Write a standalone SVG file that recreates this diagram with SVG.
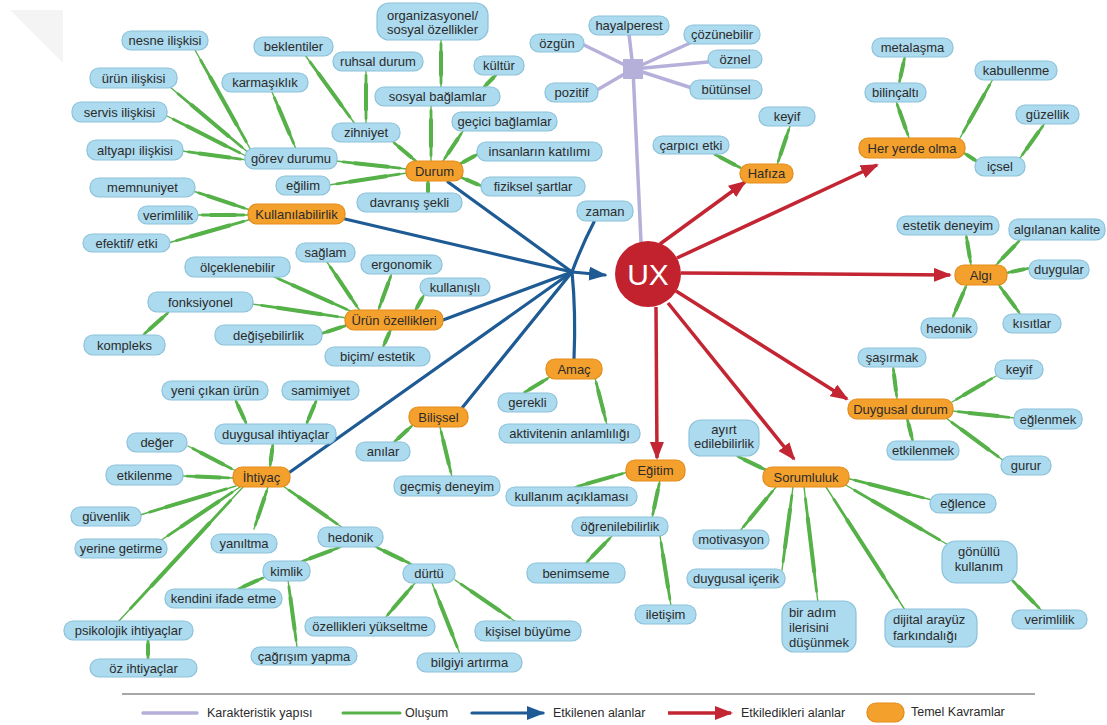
<svg xmlns="http://www.w3.org/2000/svg" width="1107" height="725" viewBox="0 0 1107 725">
<style>
.b{fill:#acdaee;stroke:#8cc2da;stroke-width:1.2}
.o{fill:#f4a02c;stroke:#e38b1a;stroke-width:1.2}
.t{font-family:"Liberation Sans",Arial,sans-serif;font-size:13px;fill:#2b2b2b;text-anchor:middle}
.tl{text-anchor:start}
.lg{font-family:"Liberation Sans",Arial,sans-serif;font-size:12.5px;fill:#2b2b2b}
.g{stroke:#55b148;stroke-width:3;stroke-linecap:round;fill:none}
.p{stroke:#b5b0da;stroke-width:3.5;stroke-linecap:round;fill:none}
.bl{stroke:#1e5b94;stroke-width:3.2;stroke-linecap:round;fill:none}
.r{stroke:#c32532;stroke-width:3.5;fill:none}
.gw{fill:none;stroke:#55b148;stroke-linecap:round}
.gw1{stroke-width:1.4}
.gw2{stroke-width:2.8;stroke-dasharray:80 200;stroke-dashoffset:-10}
.gw3{stroke-width:4;stroke-dasharray:46 200;stroke-dashoffset:-27}
</style>
<defs>
<marker id="ah-red" markerUnits="userSpaceOnUse" markerWidth="20" markerHeight="16" refX="16" refY="7" orient="auto">
<path d="M0,0 L18,7 L0,14 z" fill="#c32532"/>
</marker>
<marker id="ah-blue" markerUnits="userSpaceOnUse" markerWidth="20" markerHeight="16" refX="16" refY="7" orient="auto">
<path d="M0,0 L18,7 L0,14 z" fill="#1e5b94"/>
</marker>
<!-- formation link geometry, drawn below as tapered strokes -->
<g id="green-paths">
<path pathLength="100" d="M418,163 L392,141"/>
<path pathLength="100" d="M431,161 L431,105"/>
<path pathLength="100" d="M443,161 L463,131"/>
<path pathLength="100" d="M458,165 L480,153"/>
<path pathLength="100" d="M460,177 L484,187"/>
<path pathLength="100" d="M428,180 L428,195"/>
<path pathLength="100" d="M407,169 L336,161"/>
<path pathLength="100" d="M407,173 L329,185"/>
<path pathLength="100" d="M441,88 L441,39"/>
<path pathLength="100" d="M483,88 L497,74"/>
<path pathLength="100" d="M355,124 L305,55"/>
<path pathLength="100" d="M366,124 L366,70"/>
<path pathLength="100" d="M252,152 L195,50"/>
<path pathLength="100" d="M250,154 L170,87"/>
<path pathLength="100" d="M248,157 L165,115"/>
<path pathLength="100" d="M247,160 L182,151"/>
<path pathLength="100" d="M296,149 L272,92"/>
<path pathLength="100" d="M250,210 L193,191"/>
<path pathLength="100" d="M249,215 L197,215"/>
<path pathLength="100" d="M252,219 L168,243"/>
<path pathLength="100" d="M355,313 L270,275"/>
<path pathLength="100" d="M360,311 L327,262"/>
<path pathLength="100" d="M378,311 L392,273"/>
<path pathLength="100" d="M415,311 L424,295"/>
<path pathLength="100" d="M347,318 L252,304"/>
<path pathLength="100" d="M348,325 L320,334"/>
<path pathLength="100" d="M391,329 L383,347"/>
<path pathLength="100" d="M170,311 L142,336"/>
<path pathLength="100" d="M550,377 L522,394"/>
<path pathLength="100" d="M595,378 L607,425"/>
<path pathLength="100" d="M413,425 L393,443"/>
<path pathLength="100" d="M440,427 L452,477"/>
<path pathLength="100" d="M270,467 L273,443"/>
<path pathLength="100" d="M236,471 L188,446"/>
<path pathLength="100" d="M234,478 L182,476"/>
<path pathLength="100" d="M236,486 L140,515"/>
<path pathLength="100" d="M240,487 L160,541"/>
<path pathLength="100" d="M243,487 L118,622"/>
<path pathLength="100" d="M268,487 L254,529"/>
<path pathLength="100" d="M283,486 L343,528"/>
<path pathLength="100" d="M247,425 L235,399"/>
<path pathLength="100" d="M306,425 L317,399"/>
<path pathLength="100" d="M148,639 L148,660"/>
<path pathLength="100" d="M343,546 L298,563"/>
<path pathLength="100" d="M374,546 L413,565"/>
<path pathLength="100" d="M265,577 L236,590"/>
<path pathLength="100" d="M288,580 L297,647"/>
<path pathLength="100" d="M415,583 L385,618"/>
<path pathLength="100" d="M432,583 L460,654"/>
<path pathLength="100" d="M455,580 L516,622"/>
<path pathLength="100" d="M628,472 L572,488"/>
<path pathLength="100" d="M660,480 L652,518"/>
<path pathLength="100" d="M612,536 L585,564"/>
<path pathLength="100" d="M660,536 L671,606"/>
<path pathLength="100" d="M770,472 L735,455"/>
<path pathLength="100" d="M776,487 L740,531"/>
<path pathLength="100" d="M793,487 L782,570"/>
<path pathLength="100" d="M804,487 L818,603"/>
<path pathLength="100" d="M826,487 L905,610"/>
<path pathLength="100" d="M846,478 L932,500"/>
<path pathLength="100" d="M844,484 L950,546"/>
<path pathLength="100" d="M1010,578 L1042,611"/>
<path pathLength="100" d="M897,399 L893,366"/>
<path pathLength="100" d="M952,402 L996,376"/>
<path pathLength="100" d="M952,411 L1015,418"/>
<path pathLength="100" d="M907,418 L913,442"/>
<path pathLength="100" d="M946,418 L1004,461"/>
<path pathLength="100" d="M971,265 L966,234"/>
<path pathLength="100" d="M996,265 L1021,239"/>
<path pathLength="100" d="M1006,273 L1030,268"/>
<path pathLength="100" d="M967,284 L952,319"/>
<path pathLength="100" d="M998,284 L1021,315"/>
<path pathLength="100" d="M909,138 L896,101"/>
<path pathLength="100" d="M960,138 L993,79"/>
<path pathLength="100" d="M964,153 L978,162"/>
<path pathLength="100" d="M899,84 L905,56"/>
<path pathLength="100" d="M1020,158 L1045,123"/>
<path pathLength="100" d="M743,169 L712,153"/>
<path pathLength="100" d="M777,165 L790,126"/>
</g>
</defs>
<rect width="1107" height="725" fill="#ffffff"/>
<polygon points="10,10 63,10 63,63" fill="#f4f4f4"/>

<!-- connectors -->
<g id="connectors">
<!-- characteristic structure -->
<g id="purple-links">
<path class="p" d="M633,69 L584,45"/>
<path class="p" d="M633,69 L629,34"/>
<path class="p" d="M633,69 L690,43"/>
<path class="p" d="M633,69 L708,62"/>
<path class="p" d="M633,69 L692,88"/>
<path class="p" d="M633,69 L597,90"/>
<path class="p" d="M633,69 L641,242"/>
</g>
<!-- formation links: thin full length, thicker toward the middle -->
<g id="green-links">
<use href="#green-paths" class="gw gw1"/>
<use href="#green-paths" class="gw gw2"/>
<use href="#green-paths" class="gw gw3"/>
</g>
<!-- affected areas -->
<g id="blue-links">
<path class="bl" d="M448,182 L572,272"/>
<path class="bl" d="M345,219 L572,272"/>
<path class="bl" d="M594,222 Q582,245 572,272"/>
<path class="bl" d="M443,320 L572,272"/>
<path class="bl" d="M462,408 L572,272"/>
<path class="bl" d="M290,472 L572,272"/>
<path class="bl" d="M574,359 Q576,312 572,272"/>
<path class="bl" d="M572,272 L605,275" marker-end="url(#ah-blue)"/>
</g>
<!-- influenced areas -->
<g id="red-links">
<path class="r" d="M660,244 L745,182" marker-end="url(#ah-red)"/>
<path class="r" d="M677,258 L877,165" marker-end="url(#ah-red)"/>
<path class="r" d="M681,273 L950,275" marker-end="url(#ah-red)"/>
<path class="r" d="M676,291 L847,399" marker-end="url(#ah-red)"/>
<path class="r" d="M668,303 L794,459" marker-end="url(#ah-red)"/>
<path class="r" d="M656,307 L657,458" marker-end="url(#ah-red)"/>
</g>
</g>

<!-- central node -->
<g id="ux">
<circle cx="648" cy="274" r="33" fill="#c1222e"/>
<text x="648" y="285" font-family="Liberation Sans, Arial, sans-serif" font-size="30" fill="#ffffff" text-anchor="middle">UX</text>
</g>
<g id="karakteristik-hub"><rect x="623" y="59" width="20" height="20" fill="#b5b0da"/></g>

<!-- core concepts -->
<g id="durum"><rect class="o" x="406" y="161" width="57" height="20" rx="9"/><text class="t" x="434.5" y="175.5">Durum</text></g>
<g id="kullanilabilirlik"><rect class="o" x="248" y="204" width="97" height="20" rx="9"/><text class="t" x="296.5" y="218.5">Kullanılabilirlik</text></g>
<g id="urun-ozellikleri"><rect class="o" x="345" y="310" width="98" height="20" rx="9"/><text class="t" x="394" y="324.5">Ürün özellikleri</text></g>
<g id="amac"><rect class="o" x="546" y="359" width="56" height="20" rx="9"/><text class="t" x="574" y="373.5">Amaç</text></g>
<g id="bilissel"><rect class="o" x="409" y="407" width="59" height="20" rx="9"/><text class="t" x="438.5" y="421.5">Bilişsel</text></g>
<g id="ihtiyac"><rect class="o" x="233" y="467" width="57" height="20" rx="9"/><text class="t" x="261.5" y="481.5">İhtiyaç</text></g>
<g id="egitim"><rect class="o" x="626" y="460" width="59" height="21" rx="9"/><text class="t" x="655.5" y="475">Eğitim</text></g>
<g id="sorumluluk"><rect class="o" x="763" y="467" width="86" height="20" rx="9"/><text class="t" x="806" y="481.5">Sorumluluk</text></g>
<g id="duygusal-durum"><rect class="o" x="848" y="399" width="105" height="20" rx="9"/><text class="t" x="900.5" y="413.5">Duygusal durum</text></g>
<g id="algi"><rect class="o" x="955" y="265" width="52" height="20" rx="9"/><text class="t" x="981" y="279.5">Algı</text></g>
<g id="her-yerde-olma"><rect class="o" x="859" y="138" width="106" height="20" rx="9"/><text class="t" x="912" y="152.5">Her yerde olma</text></g>
<g id="hafiza"><rect class="o" x="740" y="164" width="53" height="19" rx="9"/><text class="t" x="766.5" y="178">Hafıza</text></g>

<!-- sub-concepts -->
<g id="nesne-iliskisi"><rect class="b" x="122" y="31" width="86" height="19" rx="9"/><text class="t" x="165" y="45">nesne ilişkisi</text></g>
<g id="beklentiler"><rect class="b" x="254" y="37" width="79" height="19" rx="9"/><text class="t" x="293.5" y="51">beklentiler</text></g>
<g id="ruhsal-durum"><rect class="b" x="333" y="52" width="90" height="19" rx="9"/><text class="t" x="378" y="66">ruhsal durum</text></g>
<g id="organizasyonel"><rect class="b" x="377" y="3" width="111" height="37" rx="12"/><text class="t" x="432.5" y="19.5">organizasyonel/</text><text class="t" x="432.5" y="33.5">sosyal özellikler</text></g>
<g id="kultur"><rect class="b" x="474" y="56" width="50" height="19" rx="9"/><text class="t" x="499" y="70">kültür</text></g>
<g id="sosyal-baglamlar"><rect class="b" x="375" y="87" width="125" height="19" rx="9"/><text class="t" x="437.5" y="101">sosyal bağlamlar</text></g>
<g id="urun-iliskisi"><rect class="b" x="90" y="68" width="87" height="20" rx="9"/><text class="t" x="133.5" y="83">ürün ilişkisi</text></g>
<g id="karmasiklik"><rect class="b" x="222" y="73" width="86" height="19" rx="9"/><text class="t" x="265" y="87">karmaşıklık</text></g>
<g id="servis-iliskisi"><rect class="b" x="72" y="102" width="95" height="20" rx="9"/><text class="t" x="119.5" y="117">servis ilişkisi</text></g>
<g id="zihniyet"><rect class="b" x="332" y="123" width="68" height="19" rx="9"/><text class="t" x="366" y="137">zihniyet</text></g>
<g id="gecici-baglamlar"><rect class="b" x="452" y="112" width="105" height="19" rx="9"/><text class="t" x="504.5" y="126">geçici bağlamlar</text></g>
<g id="altyapi-iliskisi"><rect class="b" x="87" y="140" width="96" height="20" rx="9"/><text class="t" x="135" y="155">altyapı ilişkisi</text></g>
<g id="gorev-durumu"><rect class="b" x="245" y="148" width="92" height="21" rx="9"/><text class="t" x="291" y="163">görev durumu</text></g>
<g id="insanlarin-katilimi"><rect class="b" x="477" y="142" width="125" height="19" rx="9"/><text class="t" x="539.5" y="156">insanların katılımı</text></g>
<g id="egilim"><rect class="b" x="276" y="176" width="54" height="19" rx="9"/><text class="t" x="303" y="190">eğilim</text></g>
<g id="fiziksel-sartlar"><rect class="b" x="481" y="177" width="104" height="19" rx="9"/><text class="t" x="533" y="191">fiziksel şartlar</text></g>
<g id="memnuniyet"><rect class="b" x="90" y="178" width="105" height="19" rx="9"/><text class="t" x="142.5" y="192">memnuniyet</text></g>
<g id="davranis-sekli"><rect class="b" x="357" y="193" width="105" height="19" rx="9"/><text class="t" x="409.5" y="207">davranış şekli</text></g>
<g id="verimlilik-1"><rect class="b" x="138" y="206" width="60" height="18" rx="9"/><text class="t" x="168" y="219.5">verimlilik</text></g>
<g id="zaman"><rect class="b" x="577" y="201" width="56" height="20" rx="9"/><text class="t" x="605" y="215.5">zaman</text></g>
<g id="efektif-etki"><rect class="b" x="83" y="234" width="87" height="18" rx="9"/><text class="t" x="126.5" y="247.5">efektif/ etki</text></g>
<g id="ozgun"><rect class="b" x="530" y="34" width="54" height="18" rx="9"/><text class="t" x="557" y="47.5">özgün</text></g>
<g id="hayalperest"><rect class="b" x="589" y="16" width="80" height="19" rx="9"/><text class="t" x="629" y="30">hayalperest</text></g>
<g id="cozunebilir"><rect class="b" x="684" y="25" width="76" height="19" rx="9"/><text class="t" x="722" y="39">çözünebilir</text></g>
<g id="oznel"><rect class="b" x="708" y="50" width="54" height="18" rx="9"/><text class="t" x="735" y="63.5">öznel</text></g>
<g id="pozitif"><rect class="b" x="545" y="83" width="53" height="19" rx="9"/><text class="t" x="571.5" y="97">pozitif</text></g>
<g id="butunsel"><rect class="b" x="690" y="80" width="72" height="19" rx="9"/><text class="t" x="726" y="94">bütünsel</text></g>
<g id="carpici-etki"><rect class="b" x="653" y="136" width="76" height="18" rx="9"/><text class="t" x="691" y="149.5">çarpıcı etki</text></g>
<g id="keyif-1"><rect class="b" x="759" y="107" width="56" height="19" rx="9"/><text class="t" x="787" y="121">keyif</text></g>
<g id="metalasma"><rect class="b" x="872" y="38" width="81" height="19" rx="9"/><text class="t" x="912.5" y="52">metalaşma</text></g>
<g id="kabullenme"><rect class="b" x="975" y="61" width="82" height="19" rx="9"/><text class="t" x="1016" y="75">kabullenme</text></g>
<g id="bilincalti"><rect class="b" x="865" y="83" width="61" height="19" rx="9"/><text class="t" x="895.5" y="97">bilinçaltı</text></g>
<g id="guzellik"><rect class="b" x="1016" y="105" width="63" height="19" rx="9"/><text class="t" x="1047.5" y="119">güzellik</text></g>
<g id="icsel"><rect class="b" x="975" y="157" width="50" height="19" rx="9"/><text class="t" x="1000" y="171">içsel</text></g>
<g id="estetik-deneyim"><rect class="b" x="897" y="216" width="102" height="19" rx="9"/><text class="t" x="948" y="230">estetik deneyim</text></g>
<g id="algilanan-kalite"><rect class="b" x="1009" y="219" width="96" height="21" rx="9"/><text class="t" x="1057" y="234">algılanan kalite</text></g>
<g id="duygular"><rect class="b" x="1029" y="260" width="60" height="19" rx="9"/><text class="t" x="1059" y="274">duygular</text></g>
<g id="hedonik-2"><rect class="b" x="921" y="318" width="56" height="20" rx="9"/><text class="t" x="949" y="333">hedonik</text></g>
<g id="kisitlar"><rect class="b" x="1003" y="314" width="58" height="19" rx="9"/><text class="t" x="1032" y="328">kısıtlar</text></g>
<g id="sasirmak"><rect class="b" x="858" y="348" width="68" height="19" rx="9"/><text class="t" x="892" y="362">şaşırmak</text></g>
<g id="keyif-2"><rect class="b" x="995" y="360" width="48" height="19" rx="9"/><text class="t" x="1019" y="374">keyif</text></g>
<g id="eglenmek"><rect class="b" x="1014" y="409" width="68" height="20" rx="9"/><text class="t" x="1048" y="424">eğlenmek</text></g>
<g id="etkilenmek"><rect class="b" x="887" y="441" width="72" height="19" rx="9"/><text class="t" x="923" y="455">etkilenmek</text></g>
<g id="gurur"><rect class="b" x="1001" y="456" width="50" height="19" rx="9"/><text class="t" x="1026" y="470">gurur</text></g>
<g id="olceklenebilir"><rect class="b" x="185" y="257" width="105" height="20" rx="9"/><text class="t" x="237.5" y="272">ölçeklenebilir</text></g>
<g id="saglam"><rect class="b" x="296" y="243" width="59" height="19" rx="9"/><text class="t" x="325.5" y="257">sağlam</text></g>
<g id="ergonomik"><rect class="b" x="361" y="255" width="81" height="19" rx="9"/><text class="t" x="401.5" y="269">ergonomik</text></g>
<g id="fonksiyonel"><rect class="b" x="148" y="292" width="105" height="20" rx="9"/><text class="t" x="200.5" y="307">fonksiyonel</text></g>
<g id="kullanisli"><rect class="b" x="420" y="278" width="70" height="18" rx="9"/><text class="t" x="455" y="291.5">kullanışlı</text></g>
<g id="degisebilirlik"><rect class="b" x="215" y="325" width="107" height="20" rx="9"/><text class="t" x="268.5" y="340">değişebilirlik</text></g>
<g id="kompleks"><rect class="b" x="84" y="335" width="81" height="20" rx="9"/><text class="t" x="124.5" y="350">kompleks</text></g>
<g id="bicim-estetik"><rect class="b" x="325" y="347" width="105" height="19" rx="9"/><text class="t" x="377.5" y="361">biçim/ estetik</text></g>
<g id="gerekli"><rect class="b" x="498" y="393" width="59" height="19" rx="9"/><text class="t" x="527.5" y="407">gerekli</text></g>
<g id="aktivitenin-anlamliligi"><rect class="b" x="499" y="424" width="141" height="19" rx="9"/><text class="t" x="569.5" y="438">aktivitenin anlamlılığı</text></g>
<g id="anilar"><rect class="b" x="356" y="442" width="54" height="19" rx="9"/><text class="t" x="383" y="456">anılar</text></g>
<g id="gecmis-deneyim"><rect class="b" x="394" y="476" width="106" height="20" rx="9"/><text class="t" x="447" y="491">geçmiş deneyim</text></g>
<g id="yeni-cikan-urun"><rect class="b" x="162" y="381" width="106" height="19" rx="9"/><text class="t" x="215" y="395">yeni çıkan ürün</text></g>
<g id="samimiyet"><rect class="b" x="282" y="381" width="77" height="19" rx="9"/><text class="t" x="320.5" y="395">samimiyet</text></g>
<g id="duygusal-ihtiyaclar"><rect class="b" x="215" y="424" width="121" height="20" rx="9"/><text class="t" x="275.5" y="439">duygusal ihtiyaçlar</text></g>
<g id="deger"><rect class="b" x="127" y="433" width="60" height="19" rx="9"/><text class="t" x="157" y="447">değer</text></g>
<g id="etkilenme"><rect class="b" x="106" y="465" width="77" height="20" rx="9"/><text class="t" x="144.5" y="480">etkilenme</text></g>
<g id="guvenlik"><rect class="b" x="71" y="507" width="70" height="19" rx="9"/><text class="t" x="106" y="521">güvenlik</text></g>
<g id="yerine-getirme"><rect class="b" x="75" y="539" width="92" height="19" rx="9"/><text class="t" x="121" y="553">yerine getirme</text></g>
<g id="yaniltma"><rect class="b" x="211" y="534" width="66" height="19" rx="9"/><text class="t" x="244" y="548">yanıltma</text></g>
<g id="hedonik-3"><rect class="b" x="318" y="527" width="65" height="20" rx="9"/><text class="t" x="350.5" y="542">hedonik</text></g>
<g id="kimlik"><rect class="b" x="263" y="561" width="47" height="20" rx="9"/><text class="t" x="286.5" y="576">kimlik</text></g>
<g id="durtu"><rect class="b" x="403" y="564" width="52" height="19" rx="9"/><text class="t" x="429" y="578">dürtü</text></g>
<g id="kendini-ifade-etme"><rect class="b" x="165" y="589" width="117" height="19" rx="9"/><text class="t" x="223.5" y="603">kendini ifade etme</text></g>
<g id="psikolojik-ihtiyaclar"><rect class="b" x="64" y="621" width="129" height="19" rx="9"/><text class="t" x="128.5" y="635">psikolojik ihtiyaçlar</text></g>
<g id="ozellikleri-yukseltme"><rect class="b" x="305" y="617" width="130" height="19" rx="9"/><text class="t" x="370" y="631">özellikleri yükseltme</text></g>
<g id="kisisel-buyume"><rect class="b" x="475" y="621" width="106" height="20" rx="9"/><text class="t" x="528" y="636">kişisel büyüme</text></g>
<g id="cagrisim-yapma"><rect class="b" x="251" y="647" width="106" height="18" rx="9"/><text class="t" x="304" y="660.5">çağrışım yapma</text></g>
<g id="bilgiyi-artirma"><rect class="b" x="417" y="653" width="105" height="19" rx="9"/><text class="t" x="469.5" y="667">bilgiyi artırma</text></g>
<g id="oz-ihtiyaclar"><rect class="b" x="90" y="659" width="107" height="18" rx="9"/><text class="t" x="143.5" y="672.5">öz ihtiyaçlar</text></g>
<g id="kullanim-aciklamasi"><rect class="b" x="506" y="487" width="131" height="19" rx="9"/><text class="t" x="571.5" y="501">kullanım açıklaması</text></g>
<g id="ogrenilebilirlik"><rect class="b" x="572" y="517" width="96" height="19" rx="9"/><text class="t" x="620" y="531">öğrenilebilirlik</text></g>
<g id="benimseme"><rect class="b" x="527" y="563" width="98" height="20" rx="9"/><text class="t" x="576" y="578">benimseme</text></g>
<g id="iletisim"><rect class="b" x="635" y="605" width="61" height="19" rx="9"/><text class="t" x="665.5" y="619">iletişim</text></g>
<g id="ayirt-edilebilirlik"><rect class="b" x="689" y="420" width="70" height="36" rx="12"/><text class="t" x="724" y="433.5">ayırt</text><text class="t" x="724" y="447.5">edilebilirlik</text></g>
<g id="motivasyon"><rect class="b" x="693" y="530" width="76" height="19" rx="9"/><text class="t" x="731" y="544">motivasyon</text></g>
<g id="duygusal-icerik"><rect class="b" x="687" y="569" width="98" height="19" rx="9"/><text class="t" x="736" y="583">duygusal içerik</text></g>
<g id="bir-adim-ilerisini"><rect class="b" x="782" y="601" width="74" height="51" rx="12"/><text class="t tl" x="789" y="617">bir adım</text><text class="t tl" x="789" y="632">ilerisini</text><text class="t tl" x="789" y="647">düşünmek</text></g>
<g id="dijital-arayuz"><rect class="b" x="885" y="609" width="92" height="38" rx="12"/><text class="t tl" x="893" y="623.5">dijital arayüz</text><text class="t tl" x="893" y="640">farkındalığı</text></g>
<g id="eglence"><rect class="b" x="930" y="494" width="66" height="19" rx="9"/><text class="t" x="963" y="508">eğlence</text></g>
<g id="gonullu-kullanim"><rect class="b" x="942" y="541" width="75" height="42" rx="14"/><text class="t" x="979" y="556">gönüllü</text><text class="t" x="979" y="571">kullanım</text></g>
<g id="verimlilik-2"><rect class="b" x="1012" y="610" width="75" height="19" rx="9"/><text class="t" x="1049.5" y="624">verimlilik</text></g>

<!-- legend -->
<g id="legend">
<path d="M122,694 L1035,694" stroke="#8a8a8a" stroke-width="1.5"/>
<path class="p" d="M143,713 L197,713" stroke-linecap="butt"/>
<text class="lg" x="207" y="717">Karakteristik yapısı</text>
<path class="g" d="M343,713 L400,713" stroke-width="3.5" stroke-linecap="butt"/>
<text class="lg" x="405" y="717">Oluşum</text>
<path class="bl" d="M472,713 L543,713" stroke-linecap="butt" marker-end="url(#ah-blue)"/>
<text class="lg" x="553" y="717">Etkilenen alanlar</text>
<path class="r" d="M668,713 L731,713" marker-end="url(#ah-red)"/>
<text class="lg" x="741" y="717">Etkiledikleri alanlar</text>
<rect class="o" x="867" y="703" width="37" height="19" rx="9"/>
<text class="lg" x="911" y="716">Temel Kavramlar</text>
</g>
</svg>
